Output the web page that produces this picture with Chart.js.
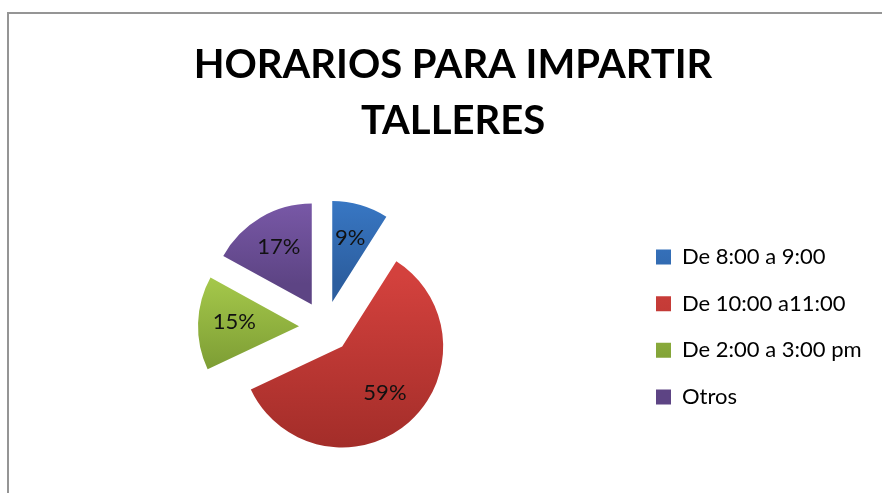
<!DOCTYPE html>
<html>
<head>
<meta charset="utf-8">
<script src="https://cdn.jsdelivr.net/npm/chart.js@4"></script>
<style>
  html, body { margin: 0; padding: 0; background: #fff; }
  #wrap { position: relative; width: 882px; height: 493px; overflow: hidden; }
  #frame { position: absolute; left: 7px; top: 12px; width: 900px; height: 500px;
           border-top: 2px solid #959595; border-left: 2px solid #959595; }
  #c { position: absolute; left: 0; top: 0; }
</style>
</head>
<body>
<div id="wrap">
  <div id="frame"></div>
  <canvas id="c" width="882" height="493"></canvas>
</div>
<script>
const titleLines = ['HORARIOS PARA IMPARTIR', 'TALLERES'];
const categories = ['De 8:00 a 9:00', 'De 10:00 a11:00', 'De 2:00 a 3:00 pm', 'Otros'];
const values = [9, 59, 15, 17];

// gradient stops per slice (relative position over the pie's vertical extent)
const gradStops = [
  [[0.0, '#3C7FCF'], [0.42, '#2C5E9F']],
  [[0.22, '#D3413D'], [0.97, '#9E2B27']],
  [[0.31, '#A5C84B'], [0.67, '#7D9D34']],
  [[0.02, '#7F5DAF'], [0.42, '#5D4484']]
];
const PIE_RADIUS = 101;
const EXPLODE = 26;          // px each slice is pulled out along its mid-angle
const LEGEND_WIDTH = 256;
const FONT = 'Lato, "Open Sans", sans-serif';

Chart.defaults.color = '#000';
Chart.defaults.font.family = FONT;

function sliceFill(ctx) {
  const chart = ctx.chart;
  const area = chart.chartArea;
  if (!area) return gradStops[ctx.dataIndex][0][1];
  const cy = (area.top + area.bottom) / 2;
  const top = cy - PIE_RADIUS - EXPLODE;
  const bottom = cy + PIE_RADIUS + EXPLODE;
  const g = chart.ctx.createLinearGradient(0, top, 0, bottom);
  gradStops[ctx.dataIndex].forEach(s => g.addColorStop(s[0], s[1]));
  return g;
}

const total = values.reduce((a, b) => a + b, 0);

// draw the library's arc elements, each translated outward (exploded pie)
const explodedPie = {
  id: 'explodedPie',
  beforeDatasetDraw(chart, args) {
    const ctx = chart.ctx;
    args.meta.data.forEach(el => {
      const p = el.getProps(['startAngle', 'endAngle'], true);
      const mid = (p.startAngle + p.endAngle) / 2;
      ctx.save();
      ctx.translate(Math.cos(mid) * EXPLODE, Math.sin(mid) * EXPLODE);
      el.draw(ctx, chart.chartArea);
      ctx.restore();
    });
    return false;
  },
  afterDatasetsDraw(chart) {
    const meta = chart.getDatasetMeta(0);
    const ctx = chart.ctx;
    ctx.save();
    ctx.font = '22px ' + FONT;
    ctx.fillStyle = '#111';
    ctx.textAlign = 'center';
    ctx.textBaseline = 'middle';
    meta.data.forEach((el, i) => {
      const p = el.getProps(['x', 'y', 'startAngle', 'endAngle', 'outerRadius'], true);
      const mid = (p.startAngle + p.endAngle) / 2;
      const r = EXPLODE + p.outerRadius * 0.64;
      const txt = Math.round(values[i] / total * 100) + '%';
      ctx.fillText(txt, p.x + Math.cos(mid) * r, p.y + Math.sin(mid) * r - 2);
    });
    ctx.restore();
  }
};

const legendWidth = {
  id: 'legendWidth',
  beforeInit(chart) {
    const lg = chart.legend;
    if (!lg) return;
    const fit = lg.fit;
    lg.fit = function () { fit.call(this); this.width = LEGEND_WIDTH; };
  }
};

new Chart(document.getElementById('c'), {
  type: 'pie',
  data: {
    labels: categories,
    datasets: [{
      data: values,
      backgroundColor: sliceFill,
      borderWidth: 0
    }]
  },
  options: {
    responsive: false,
    animation: false,
    devicePixelRatio: 1,
    radius: PIE_RADIUS,
    layout: { padding: { left: 18.7, right: -5.3, top: 0, bottom: 0 } },
    plugins: {
      tooltip: { enabled: false },
      title: {
        display: true,
        text: titleLines,
        color: '#000',
        font: { family: FONT, size: 40, weight: 'bold', lineHeight: 1.4 },
        padding: { top: 37, bottom: 12 }
      },
      legend: {
        position: 'right',
        fullSize: false,
        labels: {
          color: '#000',
          boxWidth: 15,
          boxHeight: 15,
          padding: 24.7,
          font: { family: FONT, size: 22 }
        }
      }
    }
  },
  plugins: [explodedPie, legendWidth]
});
</script>
</body>
</html>
